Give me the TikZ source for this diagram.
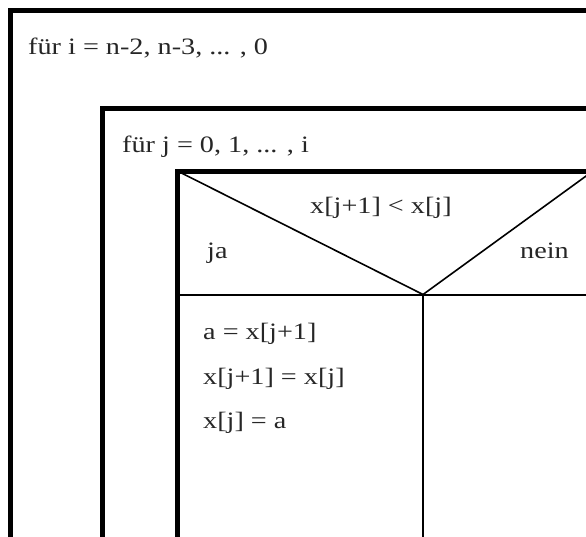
\documentclass[tikz,border=0pt]{standalone}
\usepackage{fontspec}
\setmainfont{Liberation Serif}[FakeStretch=1.2]
\begin{document}
\begin{tikzpicture}[x=1pt,y=-1pt,
  thickline/.style={line width=5pt},
  thinline/.style={line width=2pt},
  lbl/.style={anchor=base west,inner sep=0pt,text=black!85,font=\fontsize{23.5}{27}\selectfont}]
\useasboundingbox (0,0) rectangle (586,536);
\clip (0,0) rectangle (586,536);
% corners
\coordinate (o) at (10.5,10);
\coordinate (m) at (102.5,108);
\coordinate (c) at (177.5,171);
\coordinate (far) at (700,700);
\coordinate (split) at (423,294.5);
\coordinate (hr) at (700,294.5);
\coordinate (vb) at (423,700);
\coordinate (tr) at (593,171);
% boxes
\draw[thickline] (o) rectangle (far);
\draw[thickline] (m) rectangle (far);
\draw[thickline] (c) rectangle (far);
% condition block
\draw[thinline] (c |- split) -- (hr);
\draw[thinline] (split) -- (vb);
\draw[line width=1.6pt] (c) -- (split) -- (tr);
% texts
\node[lbl] (t1) at (28,54) {für i = n-2, n-3, ... , 0};
\node[lbl] (t2) at (122,152) {für j = 0, 1, ... , i};
\node[lbl] (cond) at (310,213) {x[j+1] < x[j]};
\node[lbl] (ja) at (207,258) {ja};
\node[lbl] (nein) at (520,258) {nein};
\node[lbl] (s1) at (203,339) {a = x[j+1]};
\node[lbl] (s2) at (203,384) {x[j+1] = x[j]};
\node[lbl] (s3) at (203,428) {x[j] = a};
\end{tikzpicture}
\end{document}
